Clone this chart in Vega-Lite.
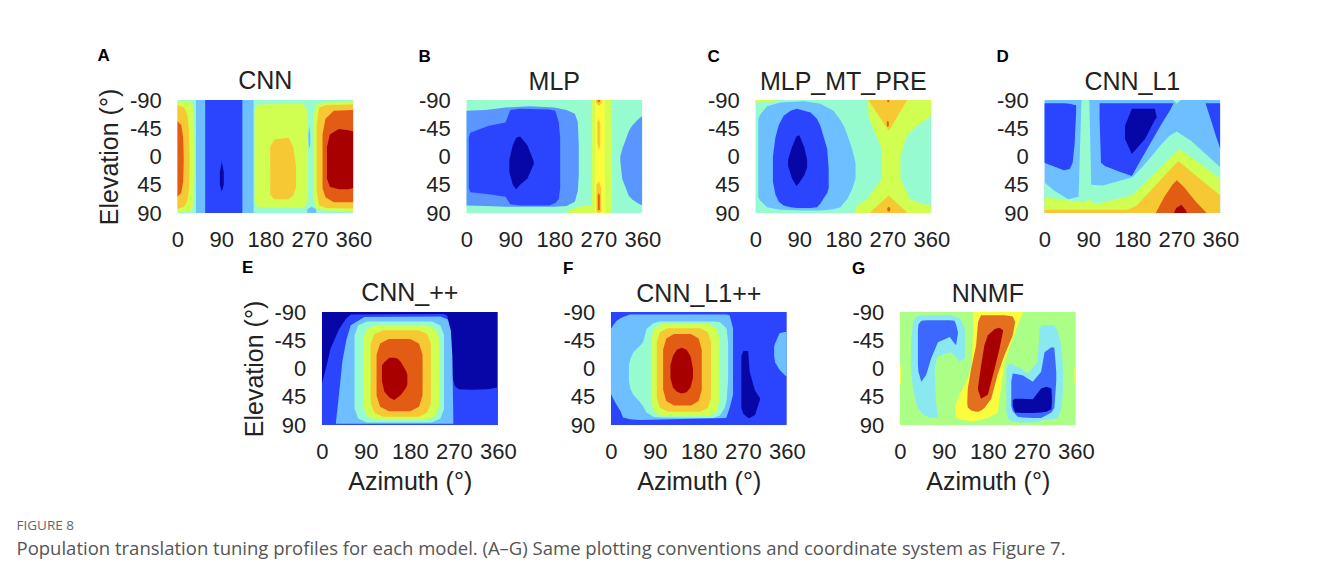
{
"$schema": "https://vega.github.io/schema/vega-lite/v6.json",
"background": "white",
"autosize": {"type": "pad"},
"padding": {"left": 16, "top": 47, "right": 5, "bottom": 5},
"title": {"text": "FIGURE 8", "subtitle": "Population translation tuning profiles for each model. (A–G) Same plotting conventions and coordinate system as Figure 7.", "orient": "bottom", "anchor": "start", "frame": "bounds", "dx": -81, "offset": 25, "font": "Open Sans", "fontSize": 13.5, "fontWeight": "normal", "color": "#666666", "subtitleFont": "Open Sans", "subtitleFontSize": 18.5, "subtitleColor": "#555555", "subtitlePadding": 7},
"center": true,
"spacing": 9,
"vconcat": [
{"hconcat": [
 {"title": {"text": "A", "anchor": "start", "frame": "bounds", "fontSize": 17, "fontWeight": "bold", "color": "#000000", "offset": 4},
  "vconcat": [{"title": "CNN", "width": 176, "height": 113, "data": {"name": "A"},
   "mark": {"type": "area", "clip": true, "interpolate": "linear", "opacity": 1, "strokeWidth": 0},
   "encoding": {
    "x": {"field": "a", "type": "quantitative", "scale": {"domain": [0, 360], "nice": false, "zero": false}, "axis": {"values": [0, 90, 180, 270, 360], "title": null}},
    "y": {"field": "t", "type": "quantitative", "stack": null, "scale": {"domain": [-90, 90], "reverse": true, "nice": false, "zero": false}, "axis": {"values": [-90, -45, 0, 45, 90], "title": "Elevation (°)"}},
    "y2": {"field": "b"},
    "color": {"field": "l", "type": "nominal", "scale": {"domain": [0,1,2,3,4,5,6,7,8,9,10,11,12,13], "range": ["#0707a8","#2b45ff","#5b95ff","#6dbfff","#96fcd0","#8ae8f0","#acff86","#d0ff52","#fcfc3e","#f6c833","#e25c14","#e2701f","#a80000","#3d68ff"]}, "legend": null},
    "detail": {"field": "k", "type": "nominal"}}}]},
 {"title": {"text": "B", "anchor": "start", "frame": "bounds", "fontSize": 17, "fontWeight": "bold", "color": "#000000", "offset": 4},
  "vconcat": [{"title": "MLP", "width": 176, "height": 113, "data": {"name": "B"},
   "mark": {"type": "area", "clip": true, "interpolate": "linear", "opacity": 1, "strokeWidth": 0},
   "encoding": {
    "x": {"field": "a", "type": "quantitative", "scale": {"domain": [0, 360], "nice": false, "zero": false}, "axis": {"values": [0, 90, 180, 270, 360], "title": null}},
    "y": {"field": "t", "type": "quantitative", "stack": null, "scale": {"domain": [-90, 90], "reverse": true, "nice": false, "zero": false}, "axis": {"values": [-90, -45, 0, 45, 90], "title": null}},
    "y2": {"field": "b"},
    "color": {"field": "l", "type": "nominal", "scale": {"domain": [0,1,2,3,4,5,6,7,8,9,10,11,12,13], "range": ["#0707a8","#2b45ff","#5b95ff","#6dbfff","#96fcd0","#8ae8f0","#acff86","#d0ff52","#fcfc3e","#f6c833","#e25c14","#e2701f","#a80000","#3d68ff"]}, "legend": null},
    "detail": {"field": "k", "type": "nominal"}}}]},
 {"title": {"text": "C", "anchor": "start", "frame": "bounds", "fontSize": 17, "fontWeight": "bold", "color": "#000000", "offset": 4},
  "vconcat": [{"title": "MLP_MT_PRE", "width": 176, "height": 113, "data": {"name": "C"},
   "mark": {"type": "area", "clip": true, "interpolate": "linear", "opacity": 1, "strokeWidth": 0},
   "encoding": {
    "x": {"field": "a", "type": "quantitative", "scale": {"domain": [0, 360], "nice": false, "zero": false}, "axis": {"values": [0, 90, 180, 270, 360], "title": null}},
    "y": {"field": "t", "type": "quantitative", "stack": null, "scale": {"domain": [-90, 90], "reverse": true, "nice": false, "zero": false}, "axis": {"values": [-90, -45, 0, 45, 90], "title": null}},
    "y2": {"field": "b"},
    "color": {"field": "l", "type": "nominal", "scale": {"domain": [0,1,2,3,4,5,6,7,8,9,10,11,12,13], "range": ["#0707a8","#2b45ff","#5b95ff","#6dbfff","#96fcd0","#8ae8f0","#acff86","#d0ff52","#fcfc3e","#f6c833","#e25c14","#e2701f","#a80000","#3d68ff"]}, "legend": null},
    "detail": {"field": "k", "type": "nominal"}}}]},
 {"title": {"text": "D", "anchor": "start", "frame": "bounds", "fontSize": 17, "fontWeight": "bold", "color": "#000000", "offset": 4},
  "vconcat": [{"title": "CNN_L1", "width": 176, "height": 113, "data": {"name": "D"},
   "mark": {"type": "area", "clip": true, "interpolate": "linear", "opacity": 1, "strokeWidth": 0},
   "encoding": {
    "x": {"field": "a", "type": "quantitative", "scale": {"domain": [0, 360], "nice": false, "zero": false}, "axis": {"values": [0, 90, 180, 270, 360], "title": null}},
    "y": {"field": "t", "type": "quantitative", "stack": null, "scale": {"domain": [-90, 90], "reverse": true, "nice": false, "zero": false}, "axis": {"values": [-90, -45, 0, 45, 90], "title": null}},
    "y2": {"field": "b"},
    "color": {"field": "l", "type": "nominal", "scale": {"domain": [0,1,2,3,4,5,6,7,8,9,10,11,12,13], "range": ["#0707a8","#2b45ff","#5b95ff","#6dbfff","#96fcd0","#8ae8f0","#acff86","#d0ff52","#fcfc3e","#f6c833","#e25c14","#e2701f","#a80000","#3d68ff"]}, "legend": null},
    "detail": {"field": "k", "type": "nominal"}}}]}
], "spacing": 46},
{"hconcat": [
 {"title": {"text": "E", "anchor": "start", "frame": "bounds", "fontSize": 17, "fontWeight": "bold", "color": "#000000", "offset": 4},
  "vconcat": [{"title": "CNN_++", "width": 176, "height": 113, "data": {"name": "E"},
   "mark": {"type": "area", "clip": true, "interpolate": "linear", "opacity": 1, "strokeWidth": 0},
   "encoding": {
    "x": {"field": "a", "type": "quantitative", "scale": {"domain": [0, 360], "nice": false, "zero": false}, "axis": {"values": [0, 90, 180, 270, 360], "title": "Azimuth (°)"}},
    "y": {"field": "t", "type": "quantitative", "stack": null, "scale": {"domain": [-90, 90], "reverse": true, "nice": false, "zero": false}, "axis": {"values": [-90, -45, 0, 45, 90], "title": "Elevation (°)"}},
    "y2": {"field": "b"},
    "color": {"field": "l", "type": "nominal", "scale": {"domain": [0,1,2,3,4,5,6,7,8,9,10,11,12,13], "range": ["#0707a8","#2b45ff","#5b95ff","#6dbfff","#96fcd0","#8ae8f0","#acff86","#d0ff52","#fcfc3e","#f6c833","#e25c14","#e2701f","#a80000","#3d68ff"]}, "legend": null},
    "detail": {"field": "k", "type": "nominal"}}}]},
 {"title": {"text": "F", "anchor": "start", "frame": "bounds", "fontSize": 17, "fontWeight": "bold", "color": "#000000", "offset": 4},
  "vconcat": [{"title": "CNN_L1++", "width": 176, "height": 113, "data": {"name": "F"},
   "mark": {"type": "area", "clip": true, "interpolate": "linear", "opacity": 1, "strokeWidth": 0},
   "encoding": {
    "x": {"field": "a", "type": "quantitative", "scale": {"domain": [0, 360], "nice": false, "zero": false}, "axis": {"values": [0, 90, 180, 270, 360], "title": "Azimuth (°)"}},
    "y": {"field": "t", "type": "quantitative", "stack": null, "scale": {"domain": [-90, 90], "reverse": true, "nice": false, "zero": false}, "axis": {"values": [-90, -45, 0, 45, 90], "title": null}},
    "y2": {"field": "b"},
    "color": {"field": "l", "type": "nominal", "scale": {"domain": [0,1,2,3,4,5,6,7,8,9,10,11,12,13], "range": ["#0707a8","#2b45ff","#5b95ff","#6dbfff","#96fcd0","#8ae8f0","#acff86","#d0ff52","#fcfc3e","#f6c833","#e25c14","#e2701f","#a80000","#3d68ff"]}, "legend": null},
    "detail": {"field": "k", "type": "nominal"}}}]},
 {"title": {"text": "G", "anchor": "start", "frame": "bounds", "fontSize": 17, "fontWeight": "bold", "color": "#000000", "offset": 4},
  "vconcat": [{"title": "NNMF", "width": 176, "height": 113, "data": {"name": "G"},
   "mark": {"type": "area", "clip": true, "interpolate": "linear", "opacity": 1, "strokeWidth": 0},
   "encoding": {
    "x": {"field": "a", "type": "quantitative", "scale": {"domain": [0, 360], "nice": false, "zero": false}, "axis": {"values": [0, 90, 180, 270, 360], "title": "Azimuth (°)"}},
    "y": {"field": "t", "type": "quantitative", "stack": null, "scale": {"domain": [-90, 90], "reverse": true, "nice": false, "zero": false}, "axis": {"values": [-90, -45, 0, 45, 90], "title": null}},
    "y2": {"field": "b"},
    "color": {"field": "l", "type": "nominal", "scale": {"domain": [0,1,2,3,4,5,6,7,8,9,10,11,12,13], "range": ["#0707a8","#2b45ff","#5b95ff","#6dbfff","#96fcd0","#8ae8f0","#acff86","#d0ff52","#fcfc3e","#f6c833","#e25c14","#e2701f","#a80000","#3d68ff"]}, "legend": null},
    "detail": {"field": "k", "type": "nominal"}}}]}
], "spacing": 46}
],
"config": {
 "view": {"stroke": null},
 "font": "Liberation Sans",
 "axis": {"labelFont": "Liberation Sans", "labelFontSize": 22, "labelColor": "#222222", "ticks": false, "domain": false, "grid": false, "labelPadding": 16, "labelFlush": false, "labelOverlap": false, "labelExpr": "replace(datum.label, '−', '-')", "titleFont": "Liberation Sans", "titleFontSize": 25, "titleFontWeight": "normal", "titleColor": "#222222", "titlePadding": 7},
 "title": {"font": "Liberation Sans", "fontSize": 25, "fontWeight": "normal", "color": "#222222", "offset": -6}
},
"datasets": {
"A": [
{"k":0,"l":4,"a":0,"t":-90,"b":90},{"k":0,"l":4,"a":360,"t":-90,"b":90},
{"k":1,"l":7,"a":0,"t":-89,"b":89},{"k":1,"l":7,"a":25,"t":-88,"b":88},{"k":1,"l":7,"a":31,"t":-83,"b":83},{"k":1,"l":7,"a":34,"t":-60,"b":60},{"k":1,"l":7,"a":35,"t":-30,"b":30},
{"k":2,"l":9,"a":0,"t":-82,"b":84},{"k":2,"l":9,"a":14,"t":-78,"b":80},{"k":2,"l":9,"a":21,"t":-66,"b":70},{"k":2,"l":9,"a":24,"t":-40,"b":50},{"k":2,"l":9,"a":25,"t":0,"b":20},
{"k":3,"l":10,"a":0,"t":-56,"b":64},{"k":3,"l":10,"a":8,"t":-50,"b":58},{"k":3,"l":10,"a":12,"t":-30,"b":40},{"k":3,"l":10,"a":13,"t":0,"b":10},
{"k":4,"l":3,"a":38,"t":-90,"b":90},{"k":4,"l":3,"a":156,"t":-90,"b":90},
{"k":5,"l":1,"a":57,"t":-90,"b":90},{"k":5,"l":1,"a":133,"t":-90,"b":90},
{"k":6,"l":0,"a":87,"t":25,"b":45},{"k":6,"l":0,"a":91,"t":8,"b":56},{"k":6,"l":0,"a":95,"t":25,"b":45},
{"k":7,"l":7,"a":158,"t":-75,"b":75},{"k":7,"l":7,"a":165,"t":-83,"b":81},{"k":7,"l":7,"a":255,"t":-84,"b":82},{"k":7,"l":7,"a":264,"t":-78,"b":78},{"k":7,"l":7,"a":267,"t":-60,"b":60},
{"k":8,"l":9,"a":190,"t":-15,"b":60},{"k":8,"l":9,"a":198,"t":-27,"b":68},{"k":8,"l":9,"a":228,"t":-30,"b":68},{"k":8,"l":9,"a":237,"t":-15,"b":62},{"k":8,"l":9,"a":243,"t":15,"b":48},
{"k":9,"l":3,"a":268,"t":-35,"b":-25},{"k":9,"l":3,"a":270,"t":-49,"b":-12},{"k":9,"l":3,"a":272,"t":-35,"b":-20},
{"k":10,"l":3,"a":266,"t":84,"b":90},{"k":10,"l":3,"a":275,"t":80,"b":90},{"k":10,"l":3,"a":284,"t":84,"b":90},
{"k":11,"l":7,"a":278,"t":-60,"b":65},{"k":11,"l":7,"a":283,"t":-82,"b":83},{"k":11,"l":7,"a":300,"t":-86,"b":86},{"k":11,"l":7,"a":360,"t":-87,"b":87},
{"k":12,"l":9,"a":285,"t":-50,"b":55},{"k":12,"l":9,"a":290,"t":-78,"b":78},{"k":12,"l":9,"a":305,"t":-82,"b":82},{"k":12,"l":9,"a":360,"t":-83,"b":83},
{"k":13,"l":10,"a":297,"t":-35,"b":50},{"k":13,"l":10,"a":303,"t":-60,"b":65},{"k":13,"l":10,"a":320,"t":-73,"b":73},{"k":13,"l":10,"a":360,"t":-74,"b":73},
{"k":14,"l":12,"a":306,"t":-15,"b":35},{"k":14,"l":12,"a":312,"t":-35,"b":48},{"k":14,"l":12,"a":330,"t":-44,"b":52},{"k":14,"l":12,"a":350,"t":-42,"b":52},{"k":14,"l":12,"a":360,"t":-40,"b":50}
],
"B": [
{"k":0,"l":4,"a":0,"t":-90,"b":90},{"k":0,"l":4,"a":360,"t":-90,"b":90},
{"k":1,"l":2,"a":0,"t":-73,"b":78},{"k":1,"l":2,"a":40,"t":-74,"b":79},{"k":1,"l":2,"a":80,"t":-78,"b":80},{"k":1,"l":2,"a":130,"t":-80,"b":80},{"k":1,"l":2,"a":180,"t":-78,"b":80},{"k":1,"l":2,"a":205,"t":-74,"b":79},{"k":1,"l":2,"a":222,"t":-68,"b":72},{"k":1,"l":2,"a":228,"t":-55,"b":55},{"k":1,"l":2,"a":230,"t":-20,"b":30},
{"k":2,"l":1,"a":5,"t":-30,"b":50},{"k":2,"l":1,"a":8,"t":-38,"b":57},{"k":2,"l":1,"a":46,"t":-49,"b":60},{"k":2,"l":1,"a":80,"t":-54,"b":64},{"k":2,"l":1,"a":90,"t":-74,"b":76},{"k":2,"l":1,"a":110,"t":-76,"b":78},{"k":2,"l":1,"a":170,"t":-75,"b":78},{"k":2,"l":1,"a":182,"t":-73,"b":74},{"k":2,"l":1,"a":189,"t":-55,"b":68},{"k":2,"l":1,"a":192,"t":-30,"b":50},
{"k":3,"l":0,"a":88,"t":5,"b":25},{"k":3,"l":0,"a":95,"t":-18,"b":45},{"k":3,"l":0,"a":102,"t":-30,"b":52},{"k":3,"l":0,"a":110,"t":-32,"b":45},{"k":3,"l":0,"a":125,"t":-18,"b":35},{"k":3,"l":0,"a":138,"t":8,"b":12},
{"k":4,"l":7,"a":257,"t":-90,"b":90},{"k":4,"l":7,"a":298,"t":-90,"b":90},
{"k":5,"l":7,"a":208,"t":86,"b":90},{"k":5,"l":7,"a":230,"t":80,"b":90},{"k":5,"l":7,"a":257,"t":77,"b":90},
{"k":6,"l":8,"a":263,"t":-90,"b":90},{"k":6,"l":8,"a":283,"t":-90,"b":90},
{"k":7,"l":9,"a":265,"t":-90,"b":-86},{"k":7,"l":9,"a":271,"t":-90,"b":-80},{"k":7,"l":9,"a":277,"t":-90,"b":-86},
{"k":8,"l":9,"a":268,"t":-55,"b":-20},{"k":8,"l":9,"a":271,"t":-60,"b":-10},{"k":8,"l":9,"a":274,"t":-50,"b":-20},
{"k":9,"l":9,"a":266,"t":45,"b":88},{"k":9,"l":9,"a":271,"t":40,"b":90},{"k":9,"l":9,"a":276,"t":50,"b":88},
{"k":10,"l":10,"a":269,"t":62,"b":84},{"k":10,"l":10,"a":271,"t":58,"b":86},{"k":10,"l":10,"a":273,"t":62,"b":84},
{"k":11,"l":10,"a":269,"t":-90,"b":-88},{"k":11,"l":10,"a":271,"t":-90,"b":-86},{"k":11,"l":10,"a":273,"t":-90,"b":-88},
{"k":12,"l":2,"a":315,"t":0,"b":8},{"k":12,"l":2,"a":319,"t":-12,"b":36},{"k":12,"l":2,"a":332,"t":-40,"b":62},{"k":12,"l":2,"a":339,"t":-49,"b":68},{"k":12,"l":2,"a":350,"t":-58,"b":74},{"k":12,"l":2,"a":360,"t":-65,"b":78}
],
"C": [
{"k":0,"l":4,"a":0,"t":-90,"b":90},{"k":0,"l":4,"a":360,"t":-90,"b":90},
{"k":1,"l":7,"a":0,"t":-90,"b":-86},{"k":1,"l":7,"a":25,"t":-90,"b":-87},{"k":1,"l":7,"a":48,"t":-90,"b":-90},
{"k":2,"l":3,"a":6,"t":-60,"b":65},{"k":2,"l":3,"a":10,"t":-67,"b":70},{"k":2,"l":3,"a":24,"t":-80,"b":81},{"k":2,"l":3,"a":51,"t":-86,"b":85},{"k":2,"l":3,"a":100,"t":-88,"b":86},{"k":2,"l":3,"a":133,"t":-84,"b":86},{"k":2,"l":3,"a":160,"t":-73,"b":84},{"k":2,"l":3,"a":174,"t":-58,"b":81},{"k":2,"l":3,"a":181,"t":-49,"b":74},{"k":2,"l":3,"a":188,"t":-35,"b":68},{"k":2,"l":3,"a":198,"t":-12,"b":52},{"k":2,"l":3,"a":205,"t":10,"b":35},
{"k":3,"l":1,"a":36,"t":0,"b":40},{"k":3,"l":1,"a":41,"t":-30,"b":60},{"k":3,"l":1,"a":48,"t":-50,"b":72},{"k":3,"l":1,"a":58,"t":-65,"b":78},{"k":3,"l":1,"a":72,"t":-73,"b":81},{"k":3,"l":1,"a":85,"t":-76,"b":82},{"k":3,"l":1,"a":113,"t":-70,"b":82},{"k":3,"l":1,"a":126,"t":-60,"b":81},{"k":3,"l":1,"a":133,"t":-49,"b":75},{"k":3,"l":1,"a":147,"t":-12,"b":58},{"k":3,"l":1,"a":150,"t":20,"b":50},
{"k":4,"l":0,"a":67,"t":5,"b":15},{"k":4,"l":0,"a":75,"t":-15,"b":35},{"k":4,"l":0,"a":84,"t":-32,"b":47},{"k":4,"l":0,"a":90,"t":-34,"b":42},{"k":4,"l":0,"a":100,"t":-15,"b":30},{"k":4,"l":0,"a":106,"t":5,"b":18},
{"k":5,"l":7,"a":230,"t":-90,"b":-89},{"k":5,"l":7,"a":232,"t":-90,"b":-62},{"k":5,"l":7,"a":245,"t":-90,"b":-38},{"k":5,"l":7,"a":259,"t":-90,"b":-12},{"k":5,"l":7,"a":297,"t":-90,"b":-1},{"k":5,"l":7,"a":310,"t":-90,"b":-33},{"k":5,"l":7,"a":330,"t":-90,"b":-48},{"k":5,"l":7,"a":360,"t":-90,"b":-65},
{"k":6,"l":7,"a":259,"t":-20,"b":40},{"k":6,"l":7,"a":297,"t":-20,"b":40},
{"k":7,"l":7,"a":203,"t":88,"b":90},{"k":7,"l":7,"a":208,"t":78,"b":90},{"k":7,"l":7,"a":228,"t":68,"b":90},{"k":7,"l":7,"a":259,"t":36,"b":90},{"k":7,"l":7,"a":297,"t":36,"b":90},{"k":7,"l":7,"a":317,"t":68,"b":90},{"k":7,"l":7,"a":340,"t":75,"b":90},{"k":7,"l":7,"a":360,"t":78,"b":90},
{"k":8,"l":9,"a":232,"t":-90,"b":-89},{"k":8,"l":9,"a":273,"t":-90,"b":-41},{"k":8,"l":9,"a":310,"t":-90,"b":-89},
{"k":9,"l":9,"a":235,"t":89,"b":90},{"k":9,"l":9,"a":273,"t":62,"b":90},{"k":9,"l":9,"a":310,"t":89,"b":90},
{"k":10,"l":10,"a":269,"t":-55,"b":-49},{"k":10,"l":10,"a":271,"t":-57,"b":-47},{"k":10,"l":10,"a":273,"t":-55,"b":-49},
{"k":11,"l":10,"a":270,"t":82,"b":86},{"k":11,"l":10,"a":273,"t":80,"b":88},{"k":11,"l":10,"a":276,"t":82,"b":86},
{"k":12,"l":10,"a":270,"t":-90,"b":-88},{"k":12,"l":10,"a":272,"t":-90,"b":-86},{"k":12,"l":10,"a":274,"t":-90,"b":-88}
],
"D": [
{"k":0,"l":3,"a":0,"t":-90,"b":90},{"k":0,"l":3,"a":360,"t":-90,"b":90},
{"k":1,"l":4,"a":0,"t":41,"b":90},{"k":1,"l":4,"a":20,"t":54,"b":90},{"k":1,"l":4,"a":49,"t":68,"b":90},{"k":1,"l":4,"a":70,"t":64,"b":90},{"k":1,"l":4,"a":76,"t":-90,"b":90},{"k":1,"l":4,"a":92,"t":-90,"b":90},{"k":1,"l":4,"a":96,"t":45,"b":90},{"k":1,"l":4,"a":120,"t":46,"b":90},{"k":1,"l":4,"a":180,"t":33,"b":90},{"k":1,"l":4,"a":200,"t":17,"b":90},{"k":1,"l":4,"a":220,"t":-1,"b":90},{"k":1,"l":4,"a":240,"t":-20,"b":90},{"k":1,"l":4,"a":256,"t":-33,"b":90},{"k":1,"l":4,"a":271,"t":-40,"b":90},{"k":1,"l":4,"a":280,"t":-35,"b":90},{"k":1,"l":4,"a":300,"t":-25,"b":90},{"k":1,"l":4,"a":330,"t":-4,"b":90},{"k":1,"l":4,"a":360,"t":17,"b":90},
{"k":2,"l":7,"a":0,"t":65,"b":90},{"k":2,"l":7,"a":49,"t":70,"b":90},{"k":2,"l":7,"a":83,"t":73,"b":90},{"k":2,"l":7,"a":90,"t":67,"b":90},{"k":2,"l":7,"a":97,"t":73,"b":90},{"k":2,"l":7,"a":110,"t":75,"b":90},{"k":2,"l":7,"a":179,"t":62,"b":90},{"k":2,"l":7,"a":220,"t":31,"b":90},{"k":2,"l":7,"a":250,"t":8,"b":90},{"k":2,"l":7,"a":277,"t":-12,"b":90},{"k":2,"l":7,"a":300,"t":1,"b":90},{"k":2,"l":7,"a":330,"t":18,"b":90},{"k":2,"l":7,"a":360,"t":36,"b":90},
{"k":3,"l":9,"a":0,"t":85,"b":90},{"k":3,"l":9,"a":170,"t":85,"b":90},{"k":3,"l":9,"a":189,"t":78,"b":90},{"k":3,"l":9,"a":220,"t":52,"b":90},{"k":3,"l":9,"a":250,"t":27,"b":90},{"k":3,"l":9,"a":274,"t":7,"b":90},{"k":3,"l":9,"a":300,"t":24,"b":90},{"k":3,"l":9,"a":330,"t":43,"b":90},{"k":3,"l":9,"a":360,"t":62,"b":90},
{"k":4,"l":10,"a":228,"t":90,"b":90},{"k":4,"l":10,"a":245,"t":65,"b":90},{"k":4,"l":10,"a":262,"t":45,"b":90},{"k":4,"l":10,"a":271,"t":38,"b":90},{"k":4,"l":10,"a":285,"t":48,"b":90},{"k":4,"l":10,"a":310,"t":72,"b":90},{"k":4,"l":10,"a":332,"t":90,"b":90},
{"k":5,"l":12,"a":265,"t":90,"b":90},{"k":5,"l":12,"a":270,"t":82,"b":90},{"k":5,"l":12,"a":280,"t":77,"b":90},{"k":5,"l":12,"a":288,"t":84,"b":90},{"k":5,"l":12,"a":292,"t":90,"b":90},
{"k":6,"l":1,"a":0,"t":-85,"b":10},{"k":6,"l":1,"a":20,"t":-85,"b":16},{"k":6,"l":1,"a":40,"t":-85,"b":22},{"k":6,"l":1,"a":52,"t":-84,"b":20},{"k":6,"l":1,"a":58,"t":-83,"b":10},{"k":6,"l":1,"a":62,"t":-82,"b":-20},{"k":6,"l":1,"a":65,"t":-82,"b":-70},
{"k":7,"l":1,"a":113,"t":-85,"b":-60},{"k":7,"l":1,"a":116,"t":-85,"b":10},{"k":7,"l":1,"a":124,"t":-85,"b":15},{"k":7,"l":1,"a":150,"t":-85,"b":23},{"k":7,"l":1,"a":179,"t":-85,"b":31},{"k":7,"l":1,"a":200,"t":-85,"b":2},{"k":7,"l":1,"a":220,"t":-85,"b":-25},{"k":7,"l":1,"a":240,"t":-85,"b":-52},{"k":7,"l":1,"a":256,"t":-85,"b":-72},{"k":7,"l":1,"a":264,"t":-85,"b":-84},
{"k":8,"l":0,"a":165,"t":-49,"b":-28},{"k":8,"l":0,"a":179,"t":-76,"b":-4},{"k":8,"l":0,"a":206,"t":-76,"b":-28},{"k":8,"l":0,"a":226,"t":-76,"b":-58},{"k":8,"l":0,"a":230,"t":-62,"b":-62},
{"k":9,"l":1,"a":330,"t":-85,"b":-84},{"k":9,"l":1,"a":340,"t":-85,"b":-60},{"k":9,"l":1,"a":350,"t":-85,"b":-35},{"k":9,"l":1,"a":360,"t":-85,"b":-12},
{"k":10,"l":4,"a":263,"t":-90,"b":-90},{"k":10,"l":4,"a":271,"t":-90,"b":-84},{"k":10,"l":4,"a":279,"t":-90,"b":-90}
],
"E": [
{"k":0,"l":0,"a":0,"t":-90,"b":90},{"k":0,"l":0,"a":360,"t":-90,"b":90},
{"k":1,"l":1,"a":0,"t":25,"b":90},{"k":1,"l":1,"a":10,"t":-5,"b":90},{"k":1,"l":1,"a":18,"t":-32,"b":90},{"k":1,"l":1,"a":35,"t":-62,"b":90},{"k":1,"l":1,"a":49,"t":-79,"b":90},{"k":1,"l":1,"a":59,"t":-86,"b":90},{"k":1,"l":1,"a":250,"t":-87,"b":90},{"k":1,"l":1,"a":257,"t":-84,"b":90},{"k":1,"l":1,"a":262,"t":-40,"b":90},{"k":1,"l":1,"a":266,"t":10,"b":90},{"k":1,"l":1,"a":272,"t":28,"b":90},{"k":1,"l":1,"a":280,"t":33,"b":90},{"k":1,"l":1,"a":305,"t":34,"b":90},{"k":1,"l":1,"a":340,"t":33,"b":90},{"k":1,"l":1,"a":360,"t":30,"b":90},
{"k":2,"l":3,"a":29,"t":85,"b":88},{"k":2,"l":3,"a":35,"t":42,"b":88},{"k":2,"l":3,"a":42,"t":-11,"b":88},{"k":2,"l":3,"a":50,"t":-45,"b":88},{"k":2,"l":3,"a":59,"t":-69,"b":88},{"k":2,"l":3,"a":87,"t":-82,"b":88},{"k":2,"l":3,"a":243,"t":-83,"b":88},{"k":2,"l":3,"a":258,"t":-78,"b":88},{"k":2,"l":3,"a":264,"t":-60,"b":88},{"k":2,"l":3,"a":267,"t":-20,"b":88},{"k":2,"l":3,"a":269,"t":80,"b":88},
{"k":3,"l":4,"a":67,"t":-53,"b":64},{"k":3,"l":4,"a":74.3,"t":-68.6,"b":79.6},{"k":3,"l":4,"a":92,"t":-75,"b":86},{"k":3,"l":4,"a":225,"t":-75,"b":86},{"k":3,"l":4,"a":242.7,"t":-68.6,"b":79.6},{"k":3,"l":4,"a":250,"t":-53,"b":64},
{"k":4,"l":7,"a":85,"t":-47,"b":60},{"k":4,"l":7,"a":92.3,"t":-62.6,"b":75.6},{"k":4,"l":7,"a":110,"t":-69,"b":82},{"k":4,"l":7,"a":215,"t":-69,"b":82},{"k":4,"l":7,"a":232.7,"t":-62.6,"b":75.6},{"k":4,"l":7,"a":240,"t":-47,"b":60},
{"k":5,"l":9,"a":100,"t":-39,"b":55},{"k":5,"l":9,"a":107.3,"t":-54.6,"b":70.6},{"k":5,"l":9,"a":125,"t":-61,"b":77},{"k":5,"l":9,"a":198,"t":-61,"b":77},{"k":5,"l":9,"a":215.7,"t":-54.6,"b":70.6},{"k":5,"l":9,"a":223,"t":-39,"b":55},
{"k":6,"l":10,"a":112,"t":-22,"b":43},{"k":6,"l":10,"a":119.3,"t":-39.8,"b":60.8},{"k":6,"l":10,"a":137,"t":-47,"b":68},{"k":6,"l":10,"a":181,"t":-47,"b":68},{"k":6,"l":10,"a":198.7,"t":-39.8,"b":60.8},{"k":6,"l":10,"a":206,"t":-22,"b":43},
{"k":7,"l":12,"a":123,"t":-5,"b":20},{"k":7,"l":12,"a":128,"t":-10,"b":37},{"k":7,"l":12,"a":138,"t":-17,"b":46},{"k":7,"l":12,"a":148,"t":-17,"b":50},{"k":7,"l":12,"a":155,"t":-16,"b":46},{"k":7,"l":12,"a":162,"t":-10,"b":42},{"k":7,"l":12,"a":173,"t":5,"b":30},{"k":7,"l":12,"a":175,"t":10,"b":25}
],
"F": [
{"k":0,"l":1,"a":0,"t":-90,"b":90},{"k":0,"l":1,"a":360,"t":-90,"b":90},
{"k":1,"l":3,"a":0,"t":-63,"b":40},{"k":1,"l":3,"a":5,"t":-69,"b":48},{"k":1,"l":3,"a":12,"t":-76,"b":58},{"k":1,"l":3,"a":20,"t":-80,"b":68},{"k":1,"l":3,"a":25,"t":-82,"b":78},{"k":1,"l":3,"a":39,"t":-86,"b":81},{"k":1,"l":3,"a":59,"t":-86,"b":82},{"k":1,"l":3,"a":236,"t":-86,"b":79},{"k":1,"l":3,"a":243,"t":-85,"b":63},{"k":1,"l":3,"a":250,"t":-64,"b":42},
{"k":2,"l":3,"a":334,"t":-35,"b":-20},{"k":2,"l":3,"a":336,"t":-40,"b":-10},{"k":2,"l":3,"a":345,"t":-56,"b":2},{"k":2,"l":3,"a":355,"t":-58,"b":10},{"k":2,"l":3,"a":360,"t":-58,"b":13},
{"k":3,"l":4,"a":37,"t":-5,"b":20},{"k":3,"l":4,"a":40,"t":-15,"b":32},{"k":3,"l":4,"a":46,"t":-26,"b":42},{"k":3,"l":4,"a":59,"t":-36,"b":53},{"k":3,"l":4,"a":66,"t":-42,"b":60},{"k":3,"l":4,"a":73,"t":-63,"b":70},{"k":3,"l":4,"a":87,"t":-72,"b":77},{"k":3,"l":4,"a":100,"t":-75,"b":78},{"k":3,"l":4,"a":209,"t":-75,"b":79},{"k":3,"l":4,"a":223,"t":-74,"b":75},{"k":3,"l":4,"a":233,"t":-67,"b":63},{"k":3,"l":4,"a":237,"t":-63,"b":50},{"k":3,"l":4,"a":240,"t":-40,"b":16},
{"k":4,"l":7,"a":83,"t":-49,"b":54},{"k":4,"l":7,"a":89.4,"t":-64.6,"b":69.6},{"k":4,"l":7,"a":105,"t":-71,"b":76},{"k":4,"l":7,"a":200,"t":-71,"b":76},{"k":4,"l":7,"a":215.6,"t":-64.6,"b":69.6},{"k":4,"l":7,"a":222,"t":-49,"b":54},
{"k":5,"l":9,"a":94,"t":-42,"b":47},{"k":5,"l":9,"a":100.4,"t":-57.6,"b":62.6},{"k":5,"l":9,"a":116,"t":-64,"b":69},{"k":5,"l":9,"a":183,"t":-64,"b":69},{"k":5,"l":9,"a":198.6,"t":-57.6,"b":62.6},{"k":5,"l":9,"a":205,"t":-42,"b":47},
{"k":6,"l":10,"a":107,"t":-30,"b":34},{"k":6,"l":10,"a":113.4,"t":-47.8,"b":51.8},{"k":6,"l":10,"a":129,"t":-55,"b":59},{"k":6,"l":10,"a":164,"t":-55,"b":59},{"k":6,"l":10,"a":179.6,"t":-47.8,"b":51.8},{"k":6,"l":10,"a":186,"t":-30,"b":34},
{"k":7,"l":12,"a":122,"t":-5,"b":15},{"k":7,"l":12,"a":127,"t":-20,"b":30},{"k":7,"l":12,"a":135,"t":-30,"b":37},{"k":7,"l":12,"a":145,"t":-33,"b":40},{"k":7,"l":12,"a":155,"t":-30,"b":38},{"k":7,"l":12,"a":163,"t":-20,"b":30},{"k":7,"l":12,"a":168,"t":0,"b":15},
{"k":8,"l":0,"a":267,"t":-20,"b":63},{"k":8,"l":0,"a":271,"t":-28,"b":72},{"k":8,"l":0,"a":281,"t":-28,"b":79},{"k":8,"l":0,"a":284,"t":5,"b":79},{"k":8,"l":0,"a":295,"t":35,"b":74},{"k":8,"l":0,"a":305,"t":47,"b":50}
],
"G": [
{"k":0,"l":6,"a":0,"t":-90,"b":90},{"k":0,"l":6,"a":360,"t":-90,"b":90},
{"k":1,"l":8,"a":0,"t":-10,"b":30},{"k":1,"l":8,"a":3,"t":0,"b":20},
{"k":2,"l":8,"a":357,"t":0,"b":20},{"k":2,"l":8,"a":360,"t":-10,"b":30},
{"k":3,"l":5,"a":23,"t":-37,"b":5},{"k":3,"l":5,"a":25,"t":-60,"b":20},{"k":3,"l":5,"a":27,"t":-74,"b":32},{"k":3,"l":5,"a":32,"t":-81,"b":50},{"k":3,"l":5,"a":37,"t":-84,"b":63},{"k":3,"l":5,"a":50,"t":-85,"b":75},{"k":3,"l":5,"a":64,"t":-85,"b":79},{"k":3,"l":5,"a":78,"t":-85,"b":78},{"k":3,"l":5,"a":105,"t":-85,"b":10},{"k":3,"l":5,"a":122,"t":-80,"b":0},{"k":3,"l":5,"a":128,"t":-72,"b":-5},{"k":3,"l":5,"a":133,"t":-63,"b":-16},
{"k":4,"l":6,"a":71,"t":5,"b":5},{"k":4,"l":6,"a":74,"t":-12,"b":53},{"k":4,"l":6,"a":78,"t":-19,"b":77},{"k":4,"l":6,"a":80,"t":-20,"b":90},{"k":4,"l":6,"a":85,"t":-21,"b":90},{"k":4,"l":6,"a":105,"t":-26,"b":90},{"k":4,"l":6,"a":122,"t":-11,"b":90},{"k":4,"l":6,"a":133,"t":-16,"b":90},
{"k":5,"l":13,"a":37,"t":-60,"b":-5},{"k":5,"l":13,"a":38,"t":-70,"b":5},{"k":5,"l":13,"a":44,"t":-76,"b":21},{"k":5,"l":13,"a":54,"t":-77,"b":10},{"k":5,"l":13,"a":64,"t":-77,"b":-16},{"k":5,"l":13,"a":78,"t":-77,"b":-42},{"k":5,"l":13,"a":102,"t":-77,"b":-50},{"k":5,"l":13,"a":112,"t":-76,"b":-40},{"k":5,"l":13,"a":115,"t":-70,"b":-37},{"k":5,"l":13,"a":119,"t":-58,"b":-56},
{"k":6,"l":8,"a":114,"t":58,"b":75},{"k":6,"l":8,"a":115,"t":56,"b":78},{"k":6,"l":8,"a":122,"t":42,"b":81},{"k":6,"l":8,"a":139,"t":16,"b":83},{"k":6,"l":8,"a":147,"t":-5,"b":84},{"k":6,"l":8,"a":151,"t":-90,"b":84},{"k":6,"l":8,"a":180,"t":-90,"b":79},{"k":6,"l":8,"a":200,"t":-90,"b":71},{"k":6,"l":8,"a":207,"t":-90,"b":32},{"k":6,"l":8,"a":214,"t":-90,"b":-11},{"k":6,"l":8,"a":224,"t":-90,"b":-32},{"k":6,"l":8,"a":241,"t":-90,"b":-69},{"k":6,"l":8,"a":252,"t":-90,"b":-90},
{"k":7,"l":11,"a":138,"t":52,"b":56},{"k":7,"l":11,"a":139,"t":32,"b":62},{"k":7,"l":11,"a":146,"t":0,"b":67},{"k":7,"l":11,"a":156,"t":-37,"b":69},{"k":7,"l":11,"a":160,"t":-74,"b":69},{"k":7,"l":11,"a":166,"t":-85,"b":67},{"k":7,"l":11,"a":173,"t":-85,"b":63},{"k":7,"l":11,"a":187,"t":-85,"b":48},{"k":7,"l":11,"a":200,"t":-85,"b":10},{"k":7,"l":11,"a":214,"t":-85,"b":-21},{"k":7,"l":11,"a":231,"t":-83,"b":-53},{"k":7,"l":11,"a":236,"t":-74,"b":-74},
{"k":8,"l":12,"a":160,"t":30,"b":34},{"k":8,"l":12,"a":166,"t":-3,"b":48},{"k":8,"l":12,"a":173,"t":-37,"b":45},{"k":8,"l":12,"a":180,"t":-53,"b":42},{"k":8,"l":12,"a":194,"t":-63,"b":0},{"k":8,"l":12,"a":204,"t":-65,"b":-32},{"k":8,"l":12,"a":211,"t":-61,"b":-59},
{"k":9,"l":5,"a":218,"t":0,"b":70},{"k":9,"l":5,"a":222,"t":-6,"b":80},{"k":9,"l":5,"a":228,"t":-8,"b":84},{"k":9,"l":5,"a":235,"t":-4,"b":85},{"k":9,"l":5,"a":248,"t":0,"b":86},{"k":9,"l":5,"a":262,"t":8,"b":86},{"k":9,"l":5,"a":282,"t":-11,"b":85},{"k":9,"l":5,"a":286,"t":-63,"b":84},{"k":9,"l":5,"a":289,"t":-69,"b":83},{"k":9,"l":5,"a":316,"t":-69,"b":80},{"k":9,"l":5,"a":323,"t":-60,"b":79},{"k":9,"l":5,"a":330,"t":-37,"b":65},{"k":9,"l":5,"a":333,"t":-10,"b":42},{"k":9,"l":5,"a":334,"t":10,"b":30},
{"k":10,"l":13,"a":228,"t":20,"b":60},{"k":10,"l":13,"a":231,"t":8,"b":68},{"k":10,"l":13,"a":241,"t":9,"b":77},{"k":10,"l":13,"a":252,"t":11,"b":78},{"k":10,"l":13,"a":272,"t":21,"b":79},{"k":10,"l":13,"a":289,"t":5,"b":79},{"k":10,"l":13,"a":296,"t":-26,"b":76},{"k":10,"l":13,"a":310,"t":-34,"b":70},{"k":10,"l":13,"a":316,"t":-33,"b":63},{"k":10,"l":13,"a":320,"t":5,"b":20},
{"k":11,"l":0,"a":231,"t":50,"b":60},{"k":11,"l":0,"a":236,"t":48,"b":70},{"k":11,"l":0,"a":250,"t":48,"b":71},{"k":11,"l":0,"a":272,"t":49,"b":71},{"k":11,"l":0,"a":289,"t":32,"b":70},{"k":11,"l":0,"a":300,"t":29,"b":69},{"k":11,"l":0,"a":310,"t":32,"b":65},{"k":11,"l":0,"a":311,"t":45,"b":55}
]
}
}
